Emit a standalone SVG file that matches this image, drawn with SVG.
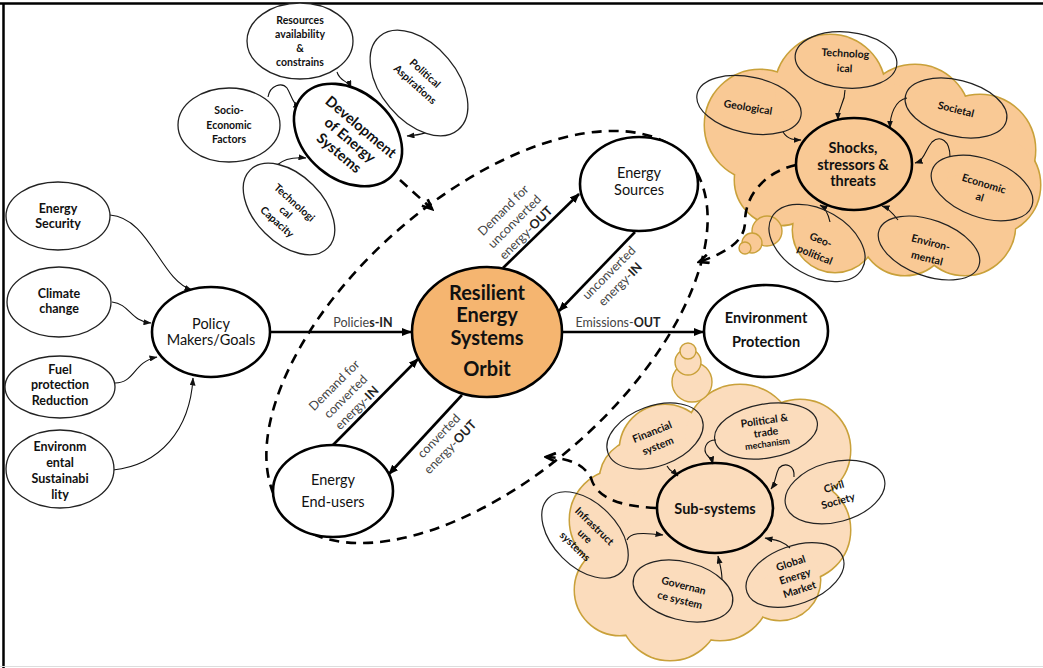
<svg xmlns="http://www.w3.org/2000/svg" xmlns:xlink="http://www.w3.org/1999/xlink" width="1043" height="668" viewBox="0 0 1043 668">
<defs>
<style>
text{font-family:Lato,"Liberation Sans",sans-serif;fill:#111;text-anchor:middle}
.main{fill:#fff;stroke:#000;stroke-width:2.6}
.open{fill:none;stroke:#000;stroke-width:2.6}
.sat{fill:#fff;stroke:#222;stroke-width:1.3}
.satc{fill:none;stroke:#222;stroke-width:1.2}
.thick{fill:none;stroke:#000;stroke-width:2.6}
.thin{fill:none;stroke:#111;stroke-width:1.1}
.dash{fill:none;stroke:#000;stroke-width:2.6;stroke-dasharray:10 7}
.lbl{font-size:12.5px;fill:#444}
.lb{font-weight:bold;fill:#222}
.s{font-size:10.5px;font-weight:bold}
.m{font-size:12.5px;font-weight:bold}
.n{font-size:14.5px}
.nb{font-size:14.5px;font-weight:bold}
.c{font-size:20px;font-weight:bold}
</style>
<marker id="ah" viewBox="0 0 10 8" refX="9" refY="4" markerWidth="10" markerHeight="8" markerUnits="userSpaceOnUse" orient="auto"><path d="M0,0L10,4L0,8z" fill="#000"/></marker>
<marker id="as" viewBox="0 0 8 6" refX="7.5" refY="3" markerWidth="8" markerHeight="6" markerUnits="userSpaceOnUse" orient="auto"><path d="M0,0L8,3L0,6z" fill="#111"/></marker>
<marker id="ad" viewBox="0 0 12 10" refX="10" refY="5" markerWidth="13" markerHeight="11" markerUnits="userSpaceOnUse" orient="auto"><path d="M1,1L10,5L1,9" fill="none" stroke="#000" stroke-width="2.5"/></marker>
<g id="cloudA">
<circle cx="760" cy="125" r="55"/><circle cx="830" cy="90" r="55"/><circle cx="915" cy="120" r="55"/><circle cx="980" cy="150" r="55"/><circle cx="990" cy="185" r="50"/><circle cx="965" cy="225" r="50"/><circle cx="905" cy="230" r="45"/><circle cx="835" cy="230" r="42"/><circle cx="780" cy="180" r="45"/><circle cx="870" cy="160" r="80"/>
</g>
<g id="cloudB">
<circle cx="665" cy="450" r="45"/><circle cx="740" cy="440" r="55"/><circle cx="800" cy="450" r="50"/><circle cx="800" cy="530" r="50"/><circle cx="780" cy="580" r="40"/><circle cx="720" cy="590" r="50"/><circle cx="670" cy="610" r="50"/><circle cx="620" cy="590" r="45"/><circle cx="620" cy="520" r="50"/><circle cx="640" cy="480" r="40"/><circle cx="710" cy="520" r="80"/>
</g>
</defs>
<rect width="1043" height="668" fill="#fff"/>
<path d="M0,3.5H1043M3.5,3V668" stroke="#000" stroke-width="2.5" fill="none"/>
<path d="M0,666.5H1043" stroke="#ddd" stroke-width="1"/>

<g id="cloud-shocks">
<use xlink:href="#cloudA" fill="#F9C995" stroke="#C9A13A" stroke-width="3"/>
<use xlink:href="#cloudA" fill="#F9C995" stroke="none"/>
<circle cx="767" cy="231" r="15" fill="#F9C995" stroke="#C9A13A" stroke-width="1.4"/>
<circle cx="752" cy="243" r="10" fill="#F9C995" stroke="#C9A13A" stroke-width="1.4"/>
<circle cx="745" cy="248" r="6" fill="#F9C995" stroke="#C9A13A" stroke-width="1.4"/>
</g>
<g id="cloud-subsystems">
<use xlink:href="#cloudB" fill="#FBDCBC" stroke="#C9A13A" stroke-width="3"/>
<use xlink:href="#cloudB" fill="#FBDCBC" stroke="none"/>
<circle cx="692" cy="382" r="20" fill="#FBDCBC" stroke="#C9A13A" stroke-width="1.4"/>
<circle cx="688" cy="362" r="13" fill="#FBDCBC" stroke="#C9A13A" stroke-width="1.4"/>
<circle cx="688" cy="351" r="8" fill="#FBDCBC" stroke="#C9A13A" stroke-width="1.4"/>
</g>

<g id="orbit-boundary">
<ellipse class="dash" cx="487" cy="337" rx="268" ry="139" transform="rotate(-41.6 487 337)"/>
</g>

<g id="connectors">
<path class="thick" d="M270,332L411,332" marker-end="url(#ah)"/>
<path class="thick" d="M562,332L703,332" marker-end="url(#ah)"/>
<path class="thick" d="M503,268L579,194" marker-end="url(#ah)"/>
<path class="thick" d="M635,232L559,311" marker-end="url(#ah)"/>
<path class="thick" d="M333,445L418,359" marker-end="url(#ah)"/>
<path class="thick" d="M462,395L389,474" marker-end="url(#ah)"/>
<path class="thin" d="M110,215C150,218 160,280 192,290" marker-end="url(#as)"/>
<path class="thin" d="M112,302C130,304 130,321 151,323" marker-end="url(#as)"/>
<path class="thin" d="M115,383C135,383 133,362 157,357" marker-end="url(#as)"/>
<path class="thin" d="M113,470C160,465 190,430 193,378" marker-end="url(#as)"/>
<path class="thin" d="M337,72C340,82 348,80 351,88" marker-end="url(#as)"/>
<path class="thin" d="M268,97C270,85 282,82 287,88C292,96 292,104 301,107" marker-end="url(#as)"/>
<path class="thin" d="M438,123C432,133 420,135 407,136" marker-end="url(#as)"/>
<path class="thin" d="M277,165C285,158 295,157 306,158" marker-end="url(#as)"/>
<path class="thin" d="M845,90C845,105 838,105 838,120" marker-end="url(#as)"/>
<path class="thin" d="M783,132C788,140 795,140 801,140" marker-end="url(#as)"/>
<path class="thin" d="M907,98C895,100 890,115 890,128" marker-end="url(#as)"/>
<path class="thin" d="M950,157C950,140 940,135 932,142C925,150 925,160 915,163" marker-end="url(#as)"/>
<path class="thin" d="M830,222C828,212 825,208 820,205" marker-end="url(#as)"/>
<path class="thin" d="M898,220C892,212 888,208 882,206" marker-end="url(#as)"/>
<path class="thin" d="M667,466C670,472 674,472 678,476" marker-end="url(#as)"/>
<path class="thin" d="M716,440C705,440 703,450 707,455C710,458 712,460 713,464" marker-end="url(#as)"/>
<path class="thin" d="M794,477C795,465 785,462 779,468C775,475 776,482 771,489" marker-end="url(#as)"/>
<path class="thin" d="M627,540C630,533 640,532 663,535" marker-end="url(#as)"/>
<path class="thin" d="M722,580C722,570 720,565 718,556" marker-end="url(#as)"/>
<path class="thin" d="M790,548C782,540 775,540 765,538" marker-end="url(#as)"/>
<path class="dash" d="M400,180L432,209" marker-end="url(#ad)"/>
<path class="dash" d="M796,165C765,172 745,195 745,222C745,242 725,253 699,262" marker-end="url(#ad)"/>
<path class="dash" d="M656,508C615,506 596,496 591,478C583,463 567,458 546,457" marker-end="url(#ad)"/>
<text class="lbl" x="363" y="327">Policie<tspan class="lb">s-IN</tspan></text>
<text class="lbl" x="618" y="327">Emissions-<tspan class="lb">OUT</tspan></text>
<text class="lbl" transform="translate(514,221) rotate(-45)"><tspan x="0" y="-11">Demand for</tspan><tspan x="0" y="5">unconverted</tspan><tspan x="0" y="21">energy-<tspan class="lb">OUT</tspan></tspan></text>
<text class="lbl" transform="translate(614,278) rotate(-45)"><tspan x="0" y="-3">unconverted</tspan><tspan x="0" y="13">energy-<tspan class="lb">IN</tspan></tspan></text>
<text class="lbl" transform="translate(345,396) rotate(-45)"><tspan x="0" y="-11">Demand for</tspan><tspan x="0" y="5">converted</tspan><tspan x="0" y="21">energy-<tspan class="lb">IN</tspan></tspan></text>
<text class="lbl" transform="translate(444,441) rotate(-46)"><tspan x="0" y="-3">converted</tspan><tspan x="0" y="13">energy-<tspan class="lb">OUT</tspan></tspan></text>
</g>

<g id="node-orbit">
<ellipse cx="487" cy="332" rx="75" ry="65" fill="#F5B570" stroke="#000" stroke-width="2.6"/>
<text class="c" x="487" y="300">Resilient</text>
<text class="c" x="487" y="322">Energy</text>
<text class="c" x="487" y="345">Systems</text>
<text class="c" x="487" y="376">Orbit</text>
</g>
<g id="node-sources">
<ellipse class="main" cx="639" cy="184" rx="59" ry="47"/>
<text class="n" x="639" y="178">Energy</text>
<text class="n" x="639" y="195">Sources</text>
</g>
<g id="node-endusers">
<ellipse class="main" cx="333" cy="491" rx="60" ry="46"/>
<text class="n" x="333" y="485">Energy</text>
<text class="n" x="333" y="507">End-users</text>
</g>
<g id="node-policy">
<ellipse class="main" cx="211" cy="332" rx="59" ry="45"/>
<text class="n" x="211" y="329">Policy</text>
<text class="n" x="211" y="345">Makers/Goals</text>
</g>
<g id="node-environment">
<ellipse class="main" cx="766" cy="331" rx="62" ry="46"/>
<text class="nb" x="766" y="323">Environment</text>
<text class="nb" x="766" y="347">Protection</text>
</g>

<g id="node-energy-security">
<ellipse class="sat" cx="58" cy="216" rx="52" ry="34"/>
<text class="m" x="58" y="213">Energy</text>
<text class="m" x="58" y="228">Security</text>
</g>
<g id="node-climate">
<ellipse class="sat" cx="59" cy="302" rx="52" ry="35"/>
<text class="m" x="59" y="298">Climate</text>
<text class="m" x="59" y="313">change</text>
</g>
<g id="node-fuel">
<ellipse class="sat" cx="60" cy="387" rx="55" ry="31"/>
<text class="m" x="60" y="374">Fuel</text>
<text class="m" x="60" y="389">protection</text>
<text class="m" x="60" y="405">Reduction</text>
</g>
<g id="node-env-sust">
<ellipse class="sat" cx="60" cy="469" rx="54" ry="39"/>
<text class="m" x="60" y="451">Environm</text>
<text class="m" x="60" y="467">ental</text>
<text class="m" x="60" y="483">Sustainabi</text>
<text class="m" x="60" y="499">lity</text>
</g>

<g id="node-resources">
<ellipse class="sat" cx="300" cy="41" rx="53" ry="38"/>
<text class="s" x="300" y="24">Resources</text>
<text class="s" x="300" y="38">availability</text>
<text class="s" x="300" y="52">&amp;</text>
<text class="s" x="300" y="66">constrains</text>
</g>
<g id="node-socio">
<ellipse class="sat" cx="229" cy="125" rx="51" ry="37"/>
<text class="s" x="229" y="114">Socio-</text>
<text class="s" x="229" y="129">Economic</text>
<text class="s" x="229" y="143">Factors</text>
</g>
<g id="node-political-aspirations">
<ellipse class="sat" cx="419" cy="83" rx="61" ry="38" transform="rotate(50 419 83)"/>
<text class="s" transform="translate(420,79) rotate(42)"><tspan x="0" y="-4">Political</tspan><tspan x="0" y="11">Aspirations</tspan></text>
</g>
<g id="node-tech-capacity">
<ellipse class="sat" cx="289" cy="209" rx="55" ry="34" transform="rotate(45 289 209)"/>
<text class="s" transform="translate(286,212) rotate(42)"><tspan x="0" y="-9">Technologi</tspan><tspan x="0" y="4">cal</tspan><tspan x="0" y="17">Capacity</tspan></text>
</g>
<g id="node-development">
<ellipse class="main" cx="348" cy="135" rx="60" ry="44" transform="rotate(40 348 135)"/>
<text class="nb" transform="translate(350,140) rotate(40)"><tspan x="0" y="-12">Development</tspan><tspan x="0" y="5">of Energy</tspan><tspan x="0" y="22">Systems</tspan></text>
</g>

<g id="node-shocks">
<ellipse class="open" cx="854" cy="164" rx="58" ry="46"/>
<text class="nb" x="853" y="153">Shocks,</text>
<text class="nb" x="853" y="170">stressors &amp;</text>
<text class="nb" x="853" y="186">threats</text>
</g>
<g id="node-technological">
<ellipse class="satc" cx="846" cy="60" rx="51" ry="28" transform="rotate(5 846 60)"/>
<text class="s" transform="translate(845,60) rotate(3)"><tspan x="0" y="-3">Technolog</tspan><tspan x="0" y="12">ical</tspan></text>
</g>
<g id="node-geological">
<ellipse class="satc" cx="749" cy="105" rx="53" ry="28" transform="rotate(12 749 105)"/>
<text class="s" transform="translate(748,107) rotate(9)" y="4">Geological</text>
</g>
<g id="node-societal">
<ellipse class="satc" cx="956" cy="108" rx="52" ry="28" transform="rotate(14 956 108)"/>
<text class="s" transform="translate(956,109) rotate(14)" y="4">Societal</text>
</g>
<g id="node-economical">
<ellipse class="satc" cx="982" cy="188" rx="53" ry="29" transform="rotate(20 982 188)"/>
<text class="s" transform="translate(982,190) rotate(17)"><tspan x="0" y="-3">Economic</tspan><tspan x="0" y="11">al</tspan></text>
</g>
<g id="node-geopolitical">
<ellipse class="satc" cx="817" cy="243" rx="52" ry="33" transform="rotate(30 817 243)"/>
<text class="s" transform="translate(818,247) rotate(22)"><tspan x="0" y="-4">Geo-</tspan><tspan x="0" y="12">political</tspan></text>
</g>
<g id="node-environmental">
<ellipse class="satc" cx="929" cy="248" rx="53" ry="28" transform="rotate(20 929 248)"/>
<text class="s" transform="translate(929,250) rotate(14)"><tspan x="0" y="-4">Environ-</tspan><tspan x="0" y="12">mental</tspan></text>
</g>

<g id="node-subsystems">
<ellipse class="open" cx="715" cy="508" rx="58" ry="45"/>
<text class="nb" x="715" y="514">Sub-systems</text>
</g>
<g id="node-financial">
<ellipse class="satc" cx="655" cy="436" rx="50" ry="30" transform="rotate(-20 655 436)"/>
<text class="s" transform="translate(655,439) rotate(-22)"><tspan x="0" y="-4">Financial</tspan><tspan x="0" y="11">system</tspan></text>
</g>
<g id="node-political-trade">
<ellipse class="satc" cx="766" cy="431" rx="52" ry="27" transform="rotate(-10 766 431)"/>
<text class="s" transform="translate(766,433) rotate(-8)"><tspan x="0" y="-9">Political &amp;</tspan><tspan x="0" y="3">trade</tspan><tspan x="0" y="14" style="font-size:9px">mechanism</tspan></text>
</g>
<g id="node-civil">
<ellipse class="satc" cx="835" cy="492" rx="51" ry="30" transform="rotate(-15 835 492)"/>
<text class="s" transform="translate(836,494) rotate(-16)"><tspan x="0" y="-4">Civil</tspan><tspan x="0" y="11">Society</tspan></text>
</g>
<g id="node-infrastructure">
<ellipse class="satc" cx="585" cy="535" rx="52" ry="32" transform="rotate(45 585 535)"/>
<text class="s" transform="translate(585,536) rotate(44)"><tspan x="0" y="-10">Infrastruct</tspan><tspan x="0" y="4">ure</tspan><tspan x="0" y="18">systems</tspan></text>
</g>
<g id="node-governance">
<ellipse class="satc" cx="683" cy="591" rx="51" ry="29" transform="rotate(15 683 591)"/>
<text class="s" transform="translate(682,592) rotate(14)"><tspan x="0" y="-3">Governan</tspan><tspan x="0" y="12">ce system</tspan></text>
</g>
<g id="node-global-market">
<ellipse class="satc" cx="795" cy="575" rx="51" ry="29" transform="rotate(-20 795 575)"/>
<text class="s" transform="translate(795,576) rotate(-18)"><tspan x="0" y="-10">Global</tspan><tspan x="0" y="4">Energy</tspan><tspan x="0" y="18">Market</tspan></text>
</g>
</svg>
